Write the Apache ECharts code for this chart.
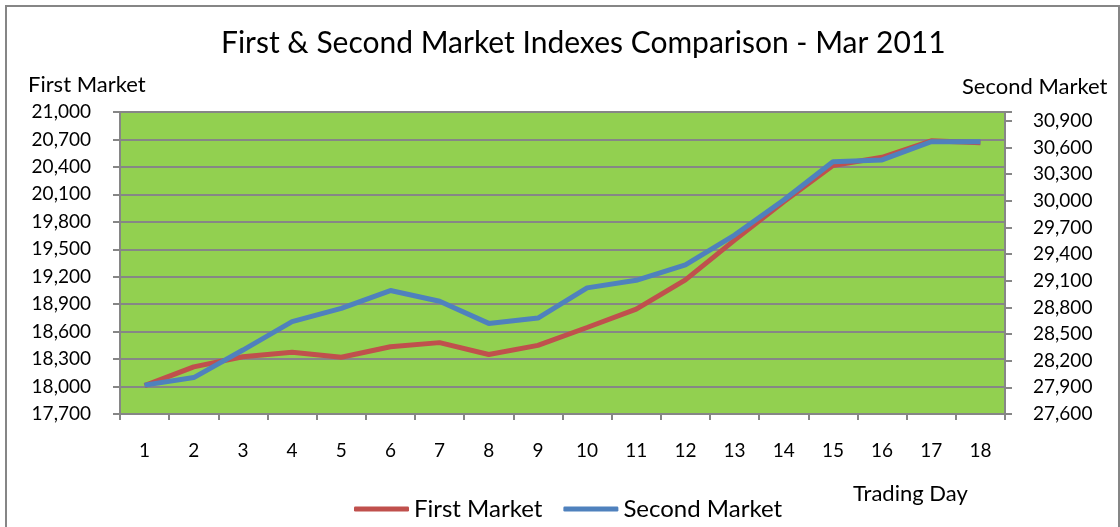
<!DOCTYPE html>
<html>
<head>
    <meta charset="utf-8" />
    <title>First & Second Market Indexes Comparison</title>
    <script src="https://cdn.jsdelivr.net/npm/echarts@6/dist/echarts.min.js"></script>
    <style>
        html, body { margin: 0; padding: 0; background: #fff; }
        #chart { width: 1120px; height: 527px; }
    </style>
</head>
<body>
    <div id="chart"></div>
    <script>
        // trading days of March 2011
        var days = ['1', '2', '3', '4', '5', '6', '7', '8', '9', '10', '11', '12', '13', '14', '15', '16', '17', '18'];
        // first market index (left axis)
        var firstMarket = [18010, 18215, 18325, 18375, 18320, 18435, 18480, 18350, 18450,
            18645, 18845, 19165, 19600, 20020, 20415, 20505, 20685, 20665];
        // second market index (right axis)
        var secondMarket = [27925, 28010, 28320, 28640, 28790, 28990, 28870, 28620, 28680,
            29020, 29105, 29280, 29615, 30010, 30440, 30460, 30665, 30665];

        var fontName = 'Lato';
        var fmt = function (v) { return Number(v).toLocaleString('en-US'); };

        var myChart = echarts.init(document.getElementById('chart'));
        var option = {
            backgroundColor: '#fff',
            animation: false,
            title: {
                text: 'First & Second Market Indexes Comparison - Mar 2011',
                left: 216,
                top: 23,
                textStyle: { fontFamily: fontName, fontSize: 30, fontWeight: 'normal', color: '#000' }
            },
            legend: {
                left: 349,
                top: 492,
                itemWidth: 55,
                itemHeight: 5,
                itemGap: 21,
                icon: 'roundRect',
                textStyle: { fontFamily: fontName, fontSize: 24, color: '#000' },
                data: ['First Market', 'Second Market']
            },
            grid: {
                left: 120,
                right: 115,
                top: 112,
                bottom: 113,
                show: true,
                backgroundColor: '#92D050',
                borderColor: '#868686',
                borderWidth: 2
            },
            xAxis: {
                type: 'category',
                data: days,
                boundaryGap: true,
                axisLine: { lineStyle: { color: '#868686', width: 2 } },
                axisTick: { show: true, length: 6, lineStyle: { color: '#868686', width: 2 } },
                axisLabel: { margin: 27, fontFamily: fontName, fontSize: 19, color: '#000' }
            },
            yAxis: [
                {
                    type: 'value',
                    min: 17700,
                    max: 21000,
                    interval: 300,
                    position: 'left',
                    axisLine: { show: true, lineStyle: { color: '#868686', width: 2 } },
                    axisTick: { show: true, length: 7, lineStyle: { color: '#868686', width: 2 } },
                    splitLine: { lineStyle: { color: '#868686', width: 2 } },
                    axisLabel: { margin: 29, fontFamily: fontName, fontSize: 19, color: '#000', formatter: fmt }
                },
                {
                    type: 'value',
                    min: 27600,
                    max: 31000,
                    interval: 300,
                    position: 'right',
                    axisLine: { show: true, lineStyle: { color: '#868686', width: 2 } },
                    axisTick: { show: true, length: 7, lineStyle: { color: '#868686', width: 2 } },
                    splitLine: { show: false },
                    axisLabel: {
                        margin: 28, fontFamily: fontName, fontSize: 19, color: '#000',
                        formatter: function (v) { return v > 30900 ? '' : fmt(v); }
                    }
                }
            ],
            series: [
                {
                    name: 'First Market',
                    type: 'line',
                    yAxisIndex: 0,
                    data: firstMarket,
                    symbol: 'none',
                    color: '#C0504D',
                    lineStyle: { width: 5, color: '#C0504D' }
                },
                {
                    name: 'Second Market',
                    type: 'line',
                    yAxisIndex: 1,
                    data: secondMarket,
                    symbol: 'none',
                    color: '#4F81BD',
                    lineStyle: { width: 5, color: '#4F81BD' }
                }
            ],
            graphic: [
                {
                    type: 'rect',
                    shape: { x: 6, y: 6, width: 1113, height: 540 },
                    style: { fill: 'none', stroke: '#868686', lineWidth: 2 },
                    silent: true
                },
                {
                    type: 'text', left: 28, top: 74,
                    style: { text: 'First Market', font: '22px Lato', fill: '#000' }
                },
                {
                    type: 'text', left: 962, top: 76,
                    style: { text: 'Second Market', font: '22px Lato', fill: '#000' }
                },
                {
                    type: 'text', left: 853, top: 483,
                    style: { text: 'Trading Day', font: '22px Lato', fill: '#000' }
                }
            ]
        };
        myChart.setOption(option);
    </script>
</body>
</html>
